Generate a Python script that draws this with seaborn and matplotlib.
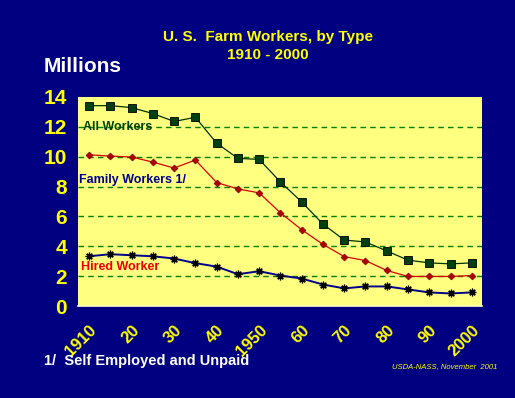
import pandas as pd
import numpy as np
import matplotlib
matplotlib.use('Agg')
import matplotlib.pyplot as plt
import seaborn as sns
from matplotlib.ticker import MultipleLocator

### data (millions)
years = list(range(1910, 2001, 5))
all_workers = [13.42, 13.42, 13.29, 12.89, 12.36, 12.64, 10.91, 9.89, 9.82, 8.31,
               6.97, 5.49, 4.42, 4.29, 3.69, 3.07, 2.89, 2.82, 2.89]
family_workers = [10.13, 10.04, 9.98, 9.64, 9.24, 9.78, 8.27, 7.84, 7.58, 6.24,
                  5.11, 4.13, 3.31, 3.04, 2.38, 1.98, 1.98, 1.98, 2.04]
hired_workers = [3.33, 3.47, 3.40, 3.33, 3.18, 2.87, 2.64, 2.13, 2.33, 2.04,
                 1.84, 1.44, 1.18, 1.31, 1.31, 1.11, 0.91, 0.84, 0.91]
tick_years = [1910, 1920, 1930, 1940, 1950, 1960, 1970, 1980, 1990, 2000]
tick_labels = ['1910', '20', '30', '40', '1950', '60', '70', '80', '90', '2000']

df = pd.DataFrame({'year': years, 'all': all_workers,
                   'family': family_workers, 'hired': hired_workers})

sns.set_style('white')
plt.rcParams['font.family'] = ['Liberation Sans', 'DejaVu Sans']

navy = '#000080'
yellow = '#FFFF00'
fig = plt.figure(figsize=(5.15, 3.98), dpi=100, facecolor=navy)
ax = fig.add_axes([78/515, 1-306/398, (482-78)/515, (306-97)/398])
ax.set_facecolor('#FFFF80')

#the three series
sns.lineplot(data=df, x='year', y='all', ax=ax, color='#003300', lw=0.9,
             marker='s', markersize=6, markerfacecolor='#004010',
             markeredgecolor='black', markeredgewidth=0.6)
sns.lineplot(data=df, x='year', y='family', ax=ax, color='#DD0000', lw=0.9,
             marker='D', markersize=3.5, markerfacecolor='#B00000',
             markeredgecolor='#800000', markeredgewidth=0.5)
sns.lineplot(data=df, x='year', y='hired', ax=ax, color='#000090', lw=1.4,
             marker=(8, 2, 0), markersize=5.5, markeredgecolor='black',
             markerfacecolor='black', markeredgewidth=0.9)

ax.set_xlim(1907.4, 2002.4)
ax.set_ylim(0, 14)
ax.yaxis.set_minor_locator(MultipleLocator(1))
for v in range(2, 14, 2):
    ax.axhline(v, color='#008000', lw=1, ls=(0, (4, 3)), zorder=0)

# tick marks at every data year, labels only on the decades
labels = dict(zip(tick_years, tick_labels))
ax.set_xticks(years)
ax.set_xticklabels([labels.get(y, '') for y in years], rotation=45,
                   ha='right', rotation_mode='anchor', color=yellow,
                   fontsize=12, fontweight='bold')
ax.tick_params(axis='x', which='major', direction='in', length=7,
               color='#008000', width=1, pad=12)

ax.set_yticks(range(0, 15, 2))
ax.set_yticklabels([str(v) for v in range(0, 15, 2)], color=yellow,
                   fontsize=15, fontweight='bold')
ax.tick_params(axis='y', which='major', direction='in', length=5,
               color='#008000', width=1, pad=8)
ax.tick_params(axis='y', which='minor', direction='in', length=4,
               color='black', width=1)
ax.set_xlabel('')
ax.set_ylabel('')

for s in ['top', 'right', 'left']:
    ax.spines[s].set_visible(False)
ax.spines['bottom'].set_color('#FFFFC0')
ax.spines['bottom'].set_linewidth(1.2)

#labels inside the plot
ax.text(1908.5, 12.0, 'All Workers', color='#004000', fontsize=9,
        fontweight='bold', va='center')
ax.text(1907.7, 8.45, 'Family Workers 1/', color='#000090', fontsize=9,
        fontweight='bold', va='center')
ax.text(1908.0, 2.6, 'Hired Worker', color='#EE0000', fontsize=9,
        fontweight='bold', va='center')

#titles and notes
fig.text(268/515, 1-37/398, 'U. S.  Farm Workers, by Type', color=yellow,
         fontsize=11, fontweight='bold', ha='center', va='center')
fig.text(268/515, 1-55/398, '1910 - 2000', color=yellow,
         fontsize=11, fontweight='bold', ha='center', va='center')
fig.text(44/515, 1-66/398, 'Millions', color='white', fontsize=15,
         fontweight='bold', ha='left', va='center')
fig.text(44/515, 1-361/398, '1/  Self Employed and Unpaid', color='white',
         fontsize=10.5, fontweight='bold', ha='left', va='center')
fig.text(497/515, 1-367/398, 'USDA-NASS, November  2001', color=yellow,
         fontsize=5.5, style='italic', ha='right', va='center')

plt.savefig('out.png', dpi=100, facecolor=navy)
